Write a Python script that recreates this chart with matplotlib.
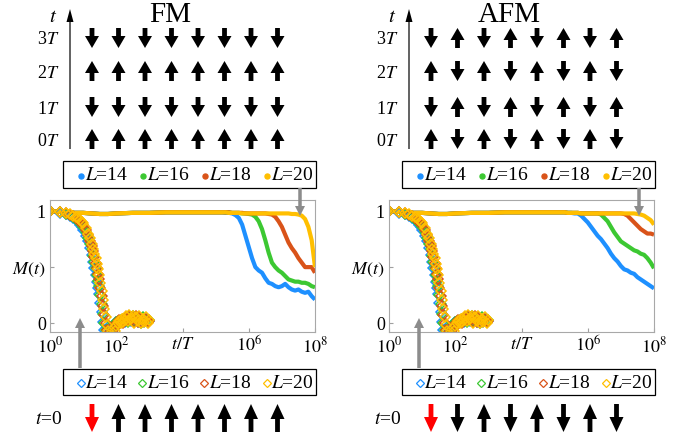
import numpy as np
import matplotlib
matplotlib.use("Agg")
import matplotlib.pyplot as plt
from matplotlib.patches import FancyArrow, Rectangle

plt.rcParams['font.family'] = ['Liberation Serif', 'DejaVu Serif']
plt.rcParams['mathtext.fontset'] = 'stix'

# system sizes and colours
sizes = [14, 16, 18, 20]
colors = ['#1E90FF', '#3CC832', '#D95319', '#FFBF00']

# short-time curves (open diamonds), same for FM and AFM
t_short = [1, 2, 3, 4, 5, 6, 7, 8, 9, 10, 12, 14, 16, 18, 20, 22, 24, 26, 28, 30,
           33, 36, 40, 44, 48, 52, 56, 60, 65, 70, 75, 80, 90, 100,
           110, 120, 135, 150, 165, 180, 200, 220, 250, 280, 310, 350, 400, 450,
           500, 560, 630, 700, 800, 900, 1000]
short_l14 = [1.0, 0.988, 0.975, 0.96, 0.94, 0.92, 0.9, 0.88, 0.855, 0.83, 0.78, 0.73, 0.67, 0.61,
             0.55, 0.49, 0.43, 0.37, 0.31, 0.26, 0.18, 0.1, 0.01, -0.06, -0.11, -0.14, -0.15,
             -0.14, -0.11, -0.08, -0.05, -0.03, 0.0, 0.01,
             0.01, 0.02, 0.02, 0.03, 0.03, 0.01, 0.04, 0.02, 0.06, 0.02, 0.05, 0.02, 0.05,
             0.01, 0.04, 0.02, 0.03, 0.01, 0.04, 0.02, 0.02]
short_l16 = [1.0, 0.99, 0.978, 0.965, 0.95, 0.93, 0.91, 0.895, 0.875, 0.855, 0.81, 0.76, 0.71, 0.66,
             0.6, 0.55, 0.49, 0.43, 0.38, 0.33, 0.25, 0.17, 0.08, 0.0, -0.06, -0.11, -0.14,
             -0.15, -0.14, -0.11, -0.08, -0.05, -0.01, 0.01,
             0.02, 0.01, 0.03, 0.02, 0.04, 0.02, 0.05, 0.01, 0.05, 0.03, 0.06, 0.02, 0.04,
             0.03, 0.05, 0.0, 0.05, 0.02, 0.03, 0.01, 0.03]
short_l18 = [1.0, 0.993, 0.982, 0.97, 0.955, 0.94, 0.925, 0.91, 0.895, 0.875, 0.83, 0.785, 0.735, 0.685,
             0.64, 0.59, 0.54, 0.49, 0.44, 0.39, 0.31, 0.24, 0.15, 0.07, 0.0, -0.06, -0.1,
             -0.13, -0.15, -0.14, -0.12, -0.09, -0.04, -0.01,
             0.01, 0.03, 0.01, 0.03, 0.0, 0.04, 0.05, 0.03, 0.06, 0.05, 0.04, 0.01, 0.06,
             0.01, 0.05, 0.01, 0.03, 0.02, 0.04, 0.01, 0.02]
short_l20 = [1.0, 0.995, 0.985, 0.975, 0.96, 0.95, 0.935, 0.92, 0.905, 0.89, 0.85, 0.8, 0.76, 0.71,
             0.66, 0.62, 0.58, 0.53, 0.48, 0.43, 0.36, 0.29, 0.21, 0.13, 0.05, -0.02, -0.07,
             -0.11, -0.14, -0.15, -0.14, -0.12, -0.07, -0.03,
             0.0, 0.02, 0.0, 0.04, 0.01, 0.03, 0.06, 0.02, 0.07, 0.04, 0.06, 0.0, 0.05,
             0.02, 0.06, 0.0, 0.04, 0.01, 0.05, 0.0, 0.03]

# long-time curves (solid), log10(t/T) grid
lg_long = [0, 0.25, 0.5, 0.75, 1.0, 1.25, 1.5, 1.75, 2.0, 2.5, 3.0, 3.5, 4.0, 4.5, 5.0,
           5.1, 5.2, 5.3, 5.4, 5.5, 5.6, 5.7, 5.8, 5.9, 6.0, 6.1, 6.2, 6.3, 6.4, 6.5,
           6.6, 6.7, 6.8, 6.9, 7.0, 7.1, 7.2, 7.3, 7.4, 7.5, 7.6, 7.7, 7.8, 7.9, 8.0]
early = [1.0, 0.995, 0.99, 0.985, 0.985, 0.98, 0.975, 0.975, 0.98, 0.985, 0.985, 0.99, 0.99, 0.99, 0.99]

fm_l14 = early + [0.99, 0.99, 0.985, 0.985, 0.98, 0.965, 0.94, 0.88, 0.78, 0.68, 0.58, 0.5, 0.47, 0.45, 0.4,
                  0.36, 0.35, 0.33, 0.32, 0.33, 0.35, 0.32, 0.3, 0.29, 0.3, 0.28, 0.27, 0.28, 0.24, 0.21]
fm_l16 = early + [0.99, 0.99, 0.99, 0.99, 0.985, 0.985, 0.985, 0.98, 0.98, 0.975, 0.97, 0.95, 0.91, 0.84, 0.74,
                  0.63, 0.54, 0.5, 0.47, 0.45, 0.42, 0.39, 0.38, 0.37, 0.37, 0.36, 0.36, 0.35, 0.33, 0.32]
fm_l18 = early + [0.99, 0.99, 0.99, 0.99, 0.985, 0.985, 0.985, 0.985, 0.98, 0.98, 0.98, 0.98, 0.98, 0.98, 0.98,
                  0.975, 0.97, 0.95, 0.91, 0.86, 0.79, 0.72, 0.67, 0.63, 0.58, 0.54, 0.5, 0.5, 0.5, 0.45]
fm_l20 = early + [0.99, 0.99, 0.99, 0.985, 0.985, 0.985, 0.985, 0.98, 0.98, 0.98, 0.98, 0.98, 0.98, 0.98, 0.98,
                  0.98, 0.98, 0.98, 0.98, 0.98, 0.98, 0.98, 0.975, 0.975, 0.97, 0.96, 0.93, 0.86, 0.74, 0.5]

afm_l14 = early + [0.99, 0.99, 0.99, 0.985, 0.985, 0.98, 0.98, 0.96, 0.93, 0.9, 0.86, 0.82, 0.78, 0.75, 0.71,
                   0.67, 0.62, 0.58, 0.55, 0.51, 0.48, 0.47, 0.45, 0.44, 0.41, 0.39, 0.37, 0.35, 0.33, 0.31]
afm_l16 = early + [0.99, 0.99, 0.99, 0.985, 0.985, 0.985, 0.985, 0.98, 0.98, 0.98, 0.98, 0.98, 0.98, 0.97, 0.94,
                   0.91, 0.86, 0.81, 0.77, 0.73, 0.71, 0.69, 0.67, 0.65, 0.64, 0.62, 0.61, 0.58, 0.54, 0.49]
afm_l18 = early + [0.99, 0.99, 0.99, 0.985, 0.985, 0.985, 0.985, 0.98, 0.98, 0.98, 0.98, 0.98, 0.98, 0.98, 0.98,
                   0.98, 0.98, 0.98, 0.98, 0.98, 0.975, 0.96, 0.93, 0.9, 0.87, 0.84, 0.82, 0.8, 0.8, 0.79]
afm_l20 = early + [0.99, 0.99, 0.99, 0.985, 0.985, 0.985, 0.985, 0.98, 0.98, 0.98, 0.98, 0.98, 0.98, 0.98, 0.98,
                   0.98, 0.98, 0.98, 0.98, 0.98, 0.98, 0.98, 0.98, 0.98, 0.975, 0.97, 0.96, 0.94, 0.92, 0.88]

# spin pictures (+1 up, -1 down), rows 0T..3T
fm_rows = [[1] * 8, [-1] * 8, [1] * 8, [-1] * 8]
afm_rows = [[1, -1] * 4, [-1, 1] * 4, [1, -1] * 4, [-1, 1] * 4]
fm_init = [-1, 1, 1, 1, 1, 1, 1, 1]
afm_init = [-1, -1, 1, -1, 1, -1, 1, -1]
row_labels = ['0$T$', '1$T$', '2$T$', '3$T$']

W, H = 693, 437
fig = plt.figure(figsize=(W / 100, H / 100), dpi=100)


def spin(ax, x, yc, s, color, h=20, hl=12):
    # arrow in pixel coordinates (y grows downward)
    ax.add_patch(FancyArrow(x, yc + s * h / 2, 0, -s * h, width=4.8, head_width=14,
                            head_length=hl, length_includes_head=True, color=color, lw=0))


panels = [
    ('FM', 0, fm_rows, fm_init, [fm_l14, fm_l16, fm_l18, fm_l20]),
    ('AFM', 339, afm_rows, afm_init, [afm_l14, afm_l16, afm_l18, afm_l20]),
]
shorts = [short_l14, short_l16, short_l18, short_l20]

for name, dx, rows, init, longs in panels:
    ax = fig.add_axes([(50 + dx) / W, 1 - 332 / H, 265 / W, 132 / H])
    for vals, c in zip(longs, colors):
        ax.plot(10.0 ** np.array(lg_long), vals, color=c, lw=3, solid_capstyle='butt')
    for vals, c in zip(shorts, colors):
        ax.plot(t_short, vals, ls='none', marker='D', ms=4.8, mfc='none', mec=c, mew=1.1)
    ax.set_xscale('log')
    ax.set_xlim(1, 1e8)
    ax.set_ylim(-0.08, 1.1)
    ax.minorticks_off()
    ax.set_xticks([1, 1e2, 1e4, 1e6, 1e8])
    ax.set_xticklabels(['$10^0$', '$10^2$', '$t/T$', '$10^6$', '$10^8$'])
    ax.set_yticks([0, 0.5, 1])
    ax.set_yticklabels(['0', '$M(t)$', '1'])
    ax.tick_params(direction='in', length=3, color='#a0a0a0', labelsize=13, pad=3)
    for sp in ax.spines.values():
        sp.set_color('#a8a8a8')
        sp.set_linewidth(0.8)

ov = fig.add_axes([0, 0, 1, 1], zorder=10)
ov.set_xlim(0, W)
ov.set_ylim(H, 0)
ov.axis('off')
ov.patch.set_alpha(0)

row_y = [139, 107, 71, 38]
col_x = [92, 118.5, 145, 171.5, 198, 224.5, 251, 277.5]

for name, dx, rows, init, longs in panels:
    ov.text(170 + dx, 15, name, fontsize=21, ha='center', va='center')
    # time axis
    ov.add_patch(FancyArrow(70 + dx, 149, 0, -140, width=1.2, head_width=7, head_length=13,
                            length_includes_head=True, color='black', lw=0))
    ov.text(53 + dx, 17, '$t$', fontsize=15, ha='center', va='center')
    for r, (y, lab) in enumerate(zip(row_y, row_labels)):
        ov.text(59 + dx, y + 2, lab, fontsize=13, ha='right', va='center')
        for x, s in zip(col_x, rows[r]):
            spin(ov, x + dx, y, s, 'black')

    # legend boxes
    ov.add_patch(Rectangle((63 + dx, 160.5), 253, 27, fill=False, ec='black', lw=0.9))
    for L, c, mx, tx in zip(sizes, colors, [81, 143, 205, 267], [85, 147, 209, 271]):
        ov.plot(mx + dx, 176, 'o', ms=3.6, color=c)
        ov.text(tx + dx, 176, f'$L$={L}', fontsize=14, ha='left', va='center')
    ov.add_patch(Rectangle((63 + dx, 368.5), 253, 26.5, fill=False, ec='black', lw=0.9))
    for L, c, mx, tx in zip(sizes, colors, [81, 142, 204, 267], [85, 147, 209, 271]):
        ov.plot(mx + dx, 383, 'D', ms=4, mfc='none', mec=c, mew=0.9)
        ov.text(tx + dx, 383, f'$L$={L}', fontsize=14, ha='left', va='center')

    # gray pointers
    ov.add_patch(FancyArrow(300 + dx, 188, 0, 28, width=3.5, head_width=10, head_length=10,
                            length_includes_head=True, color='#8c8c8c', lw=0))
    ov.add_patch(FancyArrow(80 + dx, 368, 0, -50, width=3.5, head_width=10, head_length=10,
                            length_includes_head=True, color='#8c8c8c', lw=0))

    # initial state
    ov.text(62 + dx, 420, '$t$=0', fontsize=14, ha='right', va='center')
    for k, (x, s) in enumerate(zip(col_x, init)):
        spin(ov, x + dx, 418, s, 'red' if k == 0 else 'black', h=28, hl=15)

fig.savefig('out.png', dpi=100)
